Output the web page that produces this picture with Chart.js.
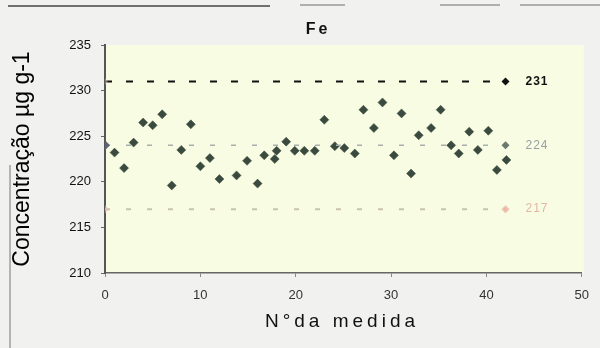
<!DOCTYPE html>
<html>
<head>
<meta charset="utf-8">
<script src="https://cdn.jsdelivr.net/npm/chart.js@4.4.0/dist/chart.umd.min.js"></script>
<style>
  html, body { margin: 0; padding: 0; background: #f1f1ef; }
  #feChart { display: block; }
</style>
</head>
<body>
<canvas id="feChart" width="600" height="348"></canvas>
<script>
// medições de Fe (nº da medida, concentração)
const measureNo = [1, 2, 3, 4, 5, 6, 7, 8, 9, 10, 11, 12, 13.8, 14.9, 16, 16.7, 17.8, 18, 19, 19.9, 20.9, 22, 23, 24.1, 25.1, 26.2, 27.1, 28.2, 29.1, 30.3, 31.1, 32.1, 32.9, 34.2, 35.2, 36.3, 37.1, 38.2, 39.1, 40.2, 41.1, 42.1];
const concentration = [223.2, 221.5, 224.3, 226.5, 226.2, 227.4, 219.6, 223.5, 226.3, 221.7, 222.6, 220.3, 220.7, 222.3, 219.8, 222.9, 222.5, 223.4, 224.4, 223.4, 223.4, 223.4, 226.8, 223.9, 223.7, 223.1, 227.9, 225.9, 228.7, 222.9, 227.5, 220.9, 225.1, 225.9, 227.9, 224.0, 223.1, 225.5, 223.5, 225.6, 221.3, 222.4];

// linhas de controle: limite superior, média, limite inferior
const limitX = [0, 42];
const upperLimit = 231;
const meanValue = 224;
const lowerLimit = 217;

const xTicks = [0, 10, 20, 30, 40, 50];
const yTicks = [210, 215, 220, 225, 230, 235];

const ctx = document.getElementById('feChart').getContext('2d');

function limitLine(value) {
  return limitX.map(x => ({ x: x, y: value }));
}

const decor = {
  id: 'decor',
  beforeDraw(chart) {
    const c = chart.ctx;
    const a = chart.chartArea;
    c.save();
    c.fillStyle = '#f8fce2';
    c.fillRect(a.left, a.top, a.right - a.left + 2, a.bottom - a.top);
    // moldura do scan
    c.strokeStyle = '#444';
    c.lineWidth = 1.5;
    c.beginPath();
    c.moveTo(8, 6); c.lineTo(270, 6);
    c.stroke();
    c.strokeStyle = '#999';
    c.beginPath();
    c.moveTo(300, 5); c.lineTo(345, 5);
    c.moveTo(440, 5); c.lineTo(500, 5);
    c.moveTo(520, 5); c.lineTo(600, 5);
    c.stroke();
    c.strokeStyle = '#777';
    c.lineWidth = 1;
    c.beginPath();
    c.moveTo(10, 165); c.lineTo(10, 348);
    c.stroke();
    c.restore();
  },
  afterDraw(chart) {
    const c = chart.ctx;
    const xs = chart.scales.x;
    const ys = chart.scales.y;
    c.save();
    c.textBaseline = 'middle';
    c.textAlign = 'center';
    c.fillStyle = '#111';
    c.font = 'bold 16px "Liberation Sans", Arial, sans-serif';
    c.letterSpacing = '3px';
    c.fillText('Fe', 318, 30);
    c.font = '19px "Liberation Sans", Arial, sans-serif';
    c.letterSpacing = '4px';
    c.fillText('N°da medida', 342, 322);
    c.letterSpacing = '1px';
    c.textAlign = 'left';
    const lx = xs.getPixelForValue(limitX[1]) + 20;
    c.font = 'bold 12px "Liberation Sans", Arial, sans-serif';
    c.fillStyle = '#111';
    c.fillText(String(upperLimit), lx, ys.getPixelForValue(upperLimit));
    c.font = '12px "Liberation Sans", Arial, sans-serif';
    c.fillStyle = '#9aa0a6';
    c.fillText(String(meanValue), lx, ys.getPixelForValue(meanValue));
    c.fillStyle = '#e2b7a6';
    c.fillText(String(lowerLimit), lx, ys.getPixelForValue(lowerLimit));
    c.restore();
  }
};

const data = {
  datasets: [
    {
      type: 'line',
      data: limitLine(upperLimit),
      borderColor: '#111',
      borderWidth: 2,
      borderDash: [7, 14],
      pointStyle: 'rectRot',
      pointRadius: [3, 4],
      pointBackgroundColor: ['rgba(235,190,180,0.5)', '#111'],
      pointBorderWidth: 0
    },
    {
      type: 'line',
      data: limitLine(meanValue),
      borderColor: '#a8aeae',
      borderWidth: 1.5,
      borderDash: [5, 16],
      pointStyle: 'rectRot',
      pointRadius: [5, 4],
      pointBackgroundColor: ['#5d6474', '#6a7870'],
      pointBorderWidth: 0
    },
    {
      type: 'line',
      data: limitLine(lowerLimit),
      borderColor: '#c8c2b0',
      borderWidth: 2,
      borderDash: [5, 16],
      pointStyle: 'rectRot',
      pointRadius: [4, 4],
      pointBackgroundColor: ['rgba(235,185,175,0.6)', 'rgba(235,175,160,0.8)'],
      pointBorderWidth: 0
    },
    {
      type: 'scatter',
      data: measureNo.map((x, i) => ({ x: x, y: concentration[i] })),
      pointStyle: 'rectRot',
      pointRadius: 4.5,
      pointBackgroundColor: '#3b4a3f',
      pointBorderColor: '#3b4a3f',
      pointBorderWidth: 0.5
    }
  ]
};

const config = {
  type: 'scatter',
  data: data,
  plugins: [decor],
  options: {
    responsive: false,
    animation: false,
    layout: { padding: { top: 45, right: 17, left: 0, bottom: 0 } },
    plugins: {
      legend: { display: false },
      tooltip: { enabled: false },
      title: { display: false }
    },
    scales: {
      x: {
        type: 'linear',
        min: 0,
        max: 50,
        afterBuildTicks: s => { s.ticks = xTicks.map(v => ({ value: v })); },
        afterFit: s => { s.height = 75; },
        ticks: {
          color: '#333',
          padding: 11,
          font: { family: '"Liberation Sans", Arial, sans-serif', size: 13 }
        },
        grid: { drawOnChartArea: false, tickLength: 4, color: '#888' },
        border: { color: '#666', width: 1.5 }
      },
      y: {
        min: 210,
        max: 235,
        afterBuildTicks: s => { s.ticks = yTicks.map(v => ({ value: v })); },
        afterFit: s => { s.width = 105; },
        ticks: {
          color: '#111',
          padding: 10,
          font: { family: '"Liberation Sans", Arial, sans-serif', size: 13 }
        },
        grid: { drawOnChartArea: false, tickLength: 4, color: '#666' },
        border: { color: '#555', width: 2 },
        title: {
          display: true,
          text: 'Concentração µg g-1',
          color: '#000',
          padding: { top: 9, bottom: 0 },
          font: { family: '"Liberation Sans Narrow", "Liberation Sans", Arial, sans-serif', size: 23 }
        }
      }
    }
  }
};

const feChart = new Chart(ctx, config);
</script>
</body>
</html>
